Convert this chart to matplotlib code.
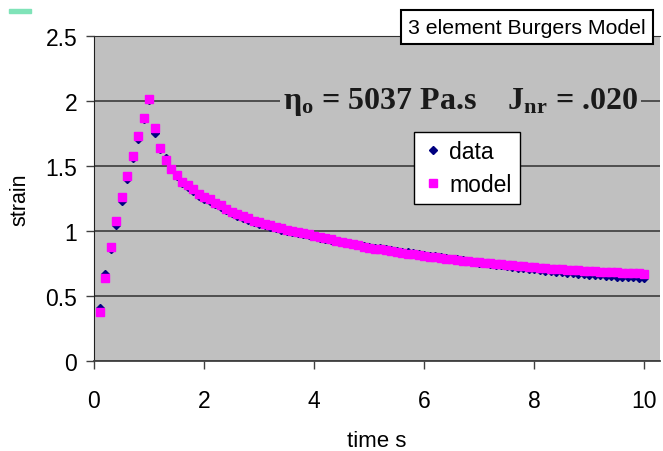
import matplotlib
matplotlib.use("Agg")
import matplotlib.pyplot as plt
from matplotlib.patches import Rectangle

plt.rcParams['font.family'] = ['Liberation Sans', 'DejaVu Sans']
plt.rcParams['mathtext.fontset'] = 'custom'
plt.rcParams['mathtext.rm'] = 'Liberation Serif:bold'
plt.rcParams['mathtext.it'] = 'Liberation Serif:bold'
plt.rcParams['mathtext.bf'] = 'Liberation Serif:bold'

# time points (s)
time_s = [round(0.1 * i, 1) for i in range(1, 101)]

# measured strain
data_strain = [
    0.41, 0.67, 0.865, 1.05, 1.23, 1.40, 1.56, 1.71, 1.865, 2.005,
    1.757, 1.63, 1.565, 1.475, 1.42, 1.37, 1.34, 1.305, 1.273, 1.25,
    1.23, 1.205, 1.185, 1.16, 1.138, 1.118, 1.102, 1.085, 1.069, 1.057,
    1.045, 1.033, 1.021, 1.01, 1.0, 0.99, 0.981, 0.975, 0.967, 0.958,
    0.949, 0.94, 0.932, 0.923, 0.915, 0.907, 0.9, 0.893, 0.886, 0.879,
    0.873, 0.867, 0.861, 0.854, 0.847, 0.841, 0.835, 0.829, 0.823, 0.817,
    0.811, 0.805, 0.799, 0.793, 0.787, 0.781, 0.775, 0.769, 0.763, 0.757,
    0.751, 0.746, 0.74, 0.735, 0.729, 0.724, 0.719, 0.714, 0.709, 0.704,
    0.699, 0.695, 0.69, 0.686, 0.682, 0.678, 0.674, 0.671, 0.667, 0.664,
    0.661, 0.658, 0.655, 0.652, 0.65, 0.647, 0.645, 0.643, 0.641, 0.639,
]

# Burgers model strain
model_strain = [
    0.377, 0.64, 0.88, 1.075, 1.26, 1.42, 1.58, 1.73, 1.87, 2.013,
    1.79, 1.64, 1.55, 1.48, 1.43, 1.38, 1.355, 1.32, 1.285, 1.265,
    1.244, 1.218, 1.198, 1.172, 1.15, 1.13, 1.115, 1.098, 1.08, 1.07,
    1.057, 1.045, 1.032, 1.02, 1.01, 1.0, 0.99, 0.985, 0.975, 0.965,
    0.955, 0.945, 0.935, 0.925, 0.915, 0.905, 0.897, 0.889, 0.88, 0.872,
    0.865, 0.858, 0.851, 0.844, 0.837, 0.831, 0.825, 0.82, 0.814, 0.808,
    0.803, 0.797, 0.792, 0.787, 0.782, 0.777, 0.772, 0.768, 0.764, 0.759,
    0.755, 0.751, 0.747, 0.743, 0.739, 0.735, 0.731, 0.727, 0.724, 0.72,
    0.717, 0.714, 0.711, 0.708, 0.705, 0.702, 0.699, 0.697, 0.694, 0.692,
    0.69, 0.688, 0.686, 0.684, 0.682, 0.68, 0.678, 0.676, 0.675, 0.673,
]

x_ticks = [0, 2, 4, 6, 8, 10]
y_ticks = [0, 0.5, 1, 1.5, 2, 2.5]
y_tick_labels = ['0', '0.5', '1', '1.5', '2', '2.5']

fig = plt.figure(figsize=(6.63, 4.52), dpi=100)
ax = fig.add_axes([94 / 663, 1 - 362 / 452, (660 - 94) / 663, (362 - 37) / 452])
ax.set_facecolor('#C0C0C0')

ax.plot(time_s, data_strain, linestyle='none', marker='D', markersize=4.2,
        color='#000080', label='data', zorder=3)
ax.plot(time_s, model_strain, linestyle='none', marker='s', markersize=5.2,
        color='#FF00FF', label='model', zorder=4)

ax.set_xlim(0, (660 - 94) / 55)
ax.set_ylim(0, 2.5)
ax.set_xticks(x_ticks)
ax.set_yticks(y_ticks)
ax.set_xticklabels([str(v) for v in x_ticks])
ax.set_yticklabels(y_tick_labels)
ax.tick_params(axis='both', direction='out', length=6, width=1, color='#404040',
               labelsize=16.5, pad=6)
ax.tick_params(axis='x', pad=14)
ax.grid(axis='y', color='#303030', linewidth=1.1)
ax.set_axisbelow(True)
ax.spines['right'].set_visible(False)
ax.spines['top'].set_color('#303030')
ax.spines['left'].set_color('#202020')
ax.spines['bottom'].set_color('#404040')
ax.spines['bottom'].set_linewidth(1.3)

ax.set_xlabel('time s', fontsize=16, labelpad=13)
ax.set_ylabel('strain', fontsize=15.5, labelpad=11)

# parameter annotation
ax.text(0.648, 0.80,
        r'η$_\mathrm{o}$ = 5037 Pa.s    J$_\mathrm{nr}$ = .020',
        transform=ax.transAxes, ha='center', va='center', fontsize=23,
        family='Liberation Serif', weight='bold', color='#1a1a1a',
        bbox=dict(facecolor='#C0C0C0', edgecolor='none', pad=2))

leg = ax.legend(loc='upper left', bbox_to_anchor=(0.565, 0.705), fontsize=16.5,
                frameon=True, fancybox=False, handletextpad=0.2,
                handlelength=1.0, borderpad=0.35, labelspacing=0.45,
                borderaxespad=0)
leg.get_frame().set_edgecolor('black')
leg.get_frame().set_linewidth(1)
leg.get_frame().set_facecolor('white')
leg.get_frame().set_alpha(1)

# title box
fig.text(408 / 663, 1 - 28 / 452, '3 element Burgers Model', fontsize=15.3,
         ha='left', va='center',
         bbox=dict(facecolor='white', edgecolor='black', linewidth=1.5,
                   boxstyle='square,pad=0.33'))

# small green slide marker at the top left
fig.patches.append(Rectangle((9 / 663, 1 - 14 / 452), 22 / 663, 4 / 452,
                             transform=fig.transFigure, color='#7fe3b8'))

fig.savefig('out.png', dpi=100)
